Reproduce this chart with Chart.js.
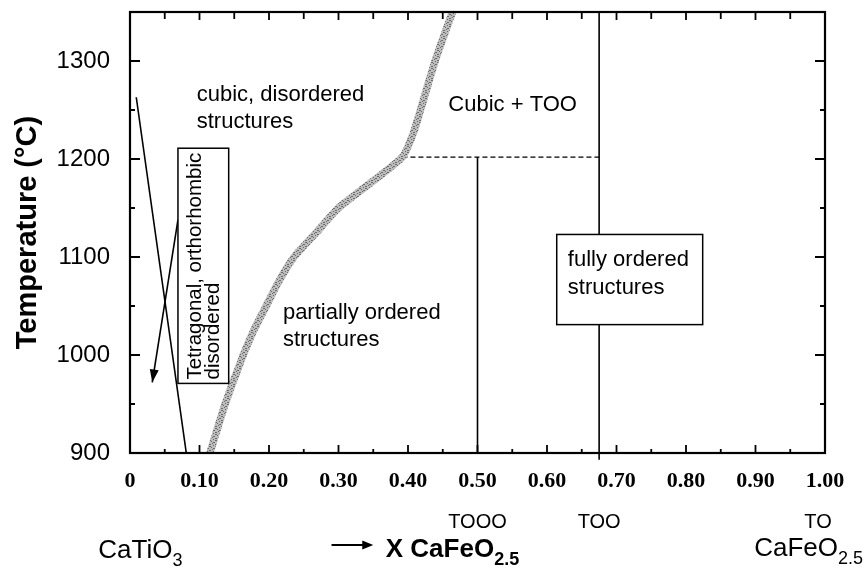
<!DOCTYPE html>
<html>
<head>
<meta charset="utf-8">
<script src="https://cdn.jsdelivr.net/npm/chart.js@4.4.0/dist/chart.umd.min.js"></script>
<style>
    html, body { margin: 0; padding: 0; background: #fff; }
    canvas { display: block; }
</style>
</head>
<body>
<canvas id="phaseChart" width="864" height="579"></canvas>
<script>
// axes
const xTicks = [0, 0.1, 0.2, 0.3, 0.4, 0.5, 0.6, 0.7, 0.8, 0.9, 1.0];
const xTickLabels = ['0', '0.10', '0.20', '0.30', '0.40', '0.50', '0.60', '0.70', '0.80', '0.90', '1.00'];
const yTicks = [900, 1000, 1100, 1200, 1300];

// order/disorder boundary (grey band)
const boundaryX = [0.115, 0.137, 0.163, 0.178, 0.196, 0.214, 0.236, 0.268, 0.300, 0.345, 0.392, 0.407, 0.418, 0.439, 0.465];
const boundaryT = [900, 950, 1000, 1025, 1050, 1075, 1100, 1125, 1150, 1175, 1202, 1225, 1250, 1300, 1352];

// tetragonal/orthorhombic limit
const tetraX = [0.009, 0.081];
const tetraT = [1263, 900];

// arrow from the label box
const arrowX = [0.069, 0.032];
const arrowT = [1138, 972];

// dashed line at 1200 C, TOOO and TOO composition lines
const dashX = [0.392, 0.675];
const dashT = [1202, 1202];
const toooX = [0.5, 0.5];
const toooT = [1202, 900];
const tooX = [0.675, 0.675];
const tooT = [1350, 893];

const pts = (xs, ts) => xs.map((v, i) => ({ x: v, y: ts[i] }));

// grey speckled texture for the boundary
const tex = document.createElement('canvas');
tex.width = 6; tex.height = 6;
const tc = tex.getContext('2d');
tc.fillStyle = '#bdbdbd'; tc.fillRect(0, 0, 6, 6);
tc.fillStyle = '#6c6c6c';
[[0, 0], [3, 1], [5, 2], [1, 3], [4, 4], [2, 5], [0, 2], [3, 4], [5, 0]].forEach(p => tc.fillRect(p[0], p[1], 1, 1));
const greyTex = tc.createPattern(tex, 'repeat');

const SANS = '"Liberation Sans", Arial, Helvetica, sans-serif';

const regionLabels = [
    { lines: ['cubic, disordered', 'structures'], x: 0.096, t: 1265 },
    { lines: ['Cubic + TOO'], x: 0.458, t: 1255 },
    { lines: ['partially ordered', 'structures'], x: 0.220, t: 1043 }
];

function chem(ctx, parts, x, y, align, bold) {
    const w = bold ? 'bold ' : '';
    let total = 0;
    parts.forEach(p => {
        ctx.font = w + (p[1] ? '18px ' : '26px ') + SANS;
        total += ctx.measureText(p[0]).width;
    });
    let cx = align === 'center' ? x - total / 2 : (align === 'right' ? x - total : x);
    ctx.textAlign = 'left';
    ctx.textBaseline = 'alphabetic';
    parts.forEach(p => {
        ctx.font = w + (p[1] ? '18px ' : '26px ') + SANS;
        ctx.fillText(p[0], cx, y + (p[1] ? 8 : 0));
        cx += ctx.measureText(p[0]).width;
    });
}

function arrowHead(ctx, x0, y0, x1, y1, len, half) {
    const a = Math.atan2(y1 - y0, x1 - x0);
    ctx.beginPath();
    ctx.moveTo(x1, y1);
    ctx.lineTo(x1 - len * Math.cos(a) + half * Math.sin(a), y1 - len * Math.sin(a) - half * Math.cos(a));
    ctx.lineTo(x1 - len * Math.cos(a) - half * Math.sin(a), y1 - len * Math.sin(a) + half * Math.cos(a));
    ctx.closePath();
    ctx.fill();
}

const overlay = {
    id: 'overlay',
    afterDatasetsDraw(chart) {
        const { ctx, chartArea: a, scales: { x, y } } = chart;
        ctx.save();
        ctx.fillStyle = '#000';
        ctx.strokeStyle = '#000';

        // arrow head
        const ax0 = x.getPixelForValue(arrowX[0]), ay0 = y.getPixelForValue(arrowT[0]);
        const ax1 = x.getPixelForValue(arrowX[1]), ay1 = y.getPixelForValue(arrowT[1]);
        arrowHead(ctx, ax0, ay0, ax1, ay1, 13, 4.5);

        // label boxes
        ctx.lineWidth = 1.5;
        const bx0 = x.getPixelForValue(0.069), bx1 = x.getPixelForValue(0.142);
        const by0 = y.getPixelForValue(1211), by1 = y.getPixelForValue(971);
        ctx.fillStyle = '#fff';
        ctx.fillRect(bx0, by0, bx1 - bx0, by1 - by0);
        ctx.strokeRect(bx0, by0, bx1 - bx0, by1 - by0);
        const fx0 = x.getPixelForValue(0.614), fx1 = x.getPixelForValue(0.824);
        const fy0 = y.getPixelForValue(1123), fy1 = y.getPixelForValue(1031);
        ctx.fillRect(fx0, fy0, fx1 - fx0, fy1 - fy0);
        ctx.strokeRect(fx0, fy0, fx1 - fx0, fy1 - fy0);

        ctx.fillStyle = '#000';
        ctx.font = '22px ' + SANS;
        ctx.textAlign = 'left';
        ctx.textBaseline = 'middle';
        regionLabels.forEach(r => {
            const px = x.getPixelForValue(r.x), py = y.getPixelForValue(r.t);
            r.lines.forEach((s, i) => ctx.fillText(s, px, py + i * 27));
        });
        const lx = x.getPixelForValue(0.630), ly = y.getPixelForValue(1097);
        ctx.fillText('fully ordered', lx, ly);
        ctx.fillText('structures', lx, ly + 28);

        // rotated box text
        ctx.save();
        ctx.translate(x.getPixelForValue(0.094), y.getPixelForValue(975));
        ctx.rotate(-Math.PI / 2);
        ctx.font = '20.5px ' + SANS;
        ctx.fillText('Tetragonal, orthorhombic', 0, 0);
        ctx.fillText('disordered', 0, 18);
        ctx.restore();

        // frame
        ctx.lineWidth = 2.2;
        ctx.strokeRect(a.left, a.top, a.right - a.left, a.bottom - a.top);

        // inward ticks
        ctx.lineWidth = 1.8;
        ctx.beginPath();
        xTicks.forEach((v, i) => {
            const p = x.getPixelForValue(v);
            ctx.moveTo(p, a.bottom); ctx.lineTo(p, a.bottom - 8);
            ctx.moveTo(p, a.top); ctx.lineTo(p, a.top + 8);
            if (i < xTicks.length - 1) {
                const m = x.getPixelForValue((v + xTicks[i + 1]) / 2);
                ctx.moveTo(m, a.bottom); ctx.lineTo(m, a.bottom - 4);
                ctx.moveTo(m, a.top); ctx.lineTo(m, a.top + 7);
            }
        });
        yTicks.forEach(v => {
            const p = y.getPixelForValue(v), m = y.getPixelForValue(v + 50);
            ctx.moveTo(a.left, p); ctx.lineTo(a.left + 10, p);
            ctx.moveTo(a.right, p); ctx.lineTo(a.right - 10, p);
            ctx.moveTo(a.left, m); ctx.lineTo(a.left + 5, m);
            ctx.moveTo(a.right, m); ctx.lineTo(a.right - 5, m);
        });
        ctx.stroke();
        ctx.restore();
    },
    afterDraw(chart) {
        const { ctx, chartArea: a, scales: { x } } = chart;
        ctx.save();
        ctx.fillStyle = '#000';
        ctx.strokeStyle = '#000';
        ctx.font = '20px ' + SANS;
        ctx.textAlign = 'center';
        ctx.textBaseline = 'alphabetic';
        ctx.fillText('TOOO', x.getPixelForValue(0.5), a.bottom + 75);
        ctx.fillText('TOO', x.getPixelForValue(0.675), a.bottom + 75);
        ctx.fillText('TO', x.getPixelForValue(0.99), a.bottom + 75);

        chem(ctx, [['CaTiO', false], ['3', true]], x.getPixelForValue(0.015), a.bottom + 105, 'center', false);
        chem(ctx, [['CaFeO', false], ['2.5', true]], a.right + 38, a.bottom + 103, 'right', false);
        chem(ctx, [['X CaFeO', false], ['2.5', true]], x.getPixelForValue(0.368), a.bottom + 104, 'left', true);

        // composition arrow
        const s0 = x.getPixelForValue(0.29), s1 = x.getPixelForValue(0.35), sy = a.bottom + 92;
        ctx.lineWidth = 2;
        ctx.beginPath(); ctx.moveTo(s0, sy); ctx.lineTo(s1 - 6, sy); ctx.stroke();
        arrowHead(ctx, s0, sy, s1, sy, 11, 4.5);
        ctx.restore();
    }
};

const ctx = document.getElementById('phaseChart').getContext('2d');
const phaseChart = new Chart(ctx, {
    type: 'scatter',
    data: {
        datasets: [
            { data: pts(boundaryX, boundaryT), borderColor: greyTex, borderWidth: 7.5, tension: 0.2 },
            { data: pts(tetraX, tetraT), borderColor: '#000', borderWidth: 1.6 },
            { data: pts(arrowX, arrowT), borderColor: '#000', borderWidth: 1.6 },
            { data: pts(dashX, dashT), borderColor: '#000', borderWidth: 1.3, borderDash: [5, 3] },
            { data: pts(toooX, toooT), borderColor: '#000', borderWidth: 1.6 },
            { data: pts(tooX, tooT), borderColor: '#000', borderWidth: 1.6, clip: false }
        ].map(d => Object.assign({ showLine: true, pointRadius: 0, fill: false }, d))
    },
    options: {
        responsive: false,
        animation: false,
        layout: { padding: { top: 12, right: 39, left: 0, bottom: 0 } },
        plugins: { legend: { display: false }, tooltip: { enabled: false } },
        scales: {
            x: {
                type: 'linear',
                min: 0,
                max: 1,
                afterBuildTicks: (s) => { s.ticks = xTicks.map(v => ({ value: v })); },
                afterFit: (s) => { s.height = 126; s.paddingLeft = 0; s.paddingRight = 0; },
                grid: { display: false, drawTicks: false },
                border: { display: false },
                ticks: {
                    autoSkip: false,
                    maxRotation: 0,
                    padding: 15,
                    color: '#000',
                    font: { family: '"Liberation Serif", "Times New Roman", serif', size: 22, weight: 'bold' },
                    callback: (v, i) => xTickLabels[i]
                }
            },
            y: {
                type: 'linear',
                min: 900,
                max: 1350,
                afterBuildTicks: (s) => { s.ticks = yTicks.map(v => ({ value: v })); },
                afterFit: (s) => { s.width = 130; s.paddingTop = 0; s.paddingBottom = 0; },
                grid: { display: false, drawTicks: false },
                border: { display: false },
                ticks: {
                    padding: 20,
                    color: '#000',
                    font: { family: SANS, size: 24 },
                    callback: (v) => String(v)
                },
                title: {
                    display: true,
                    text: 'Temperature (°C)',
                    color: '#000',
                    padding: { top: 11, bottom: 0 },
                    font: { family: SANS, size: 29, weight: 'bold' }
                }
            }
        }
    },
    plugins: [overlay]
});
</script>
</body>
</html>
